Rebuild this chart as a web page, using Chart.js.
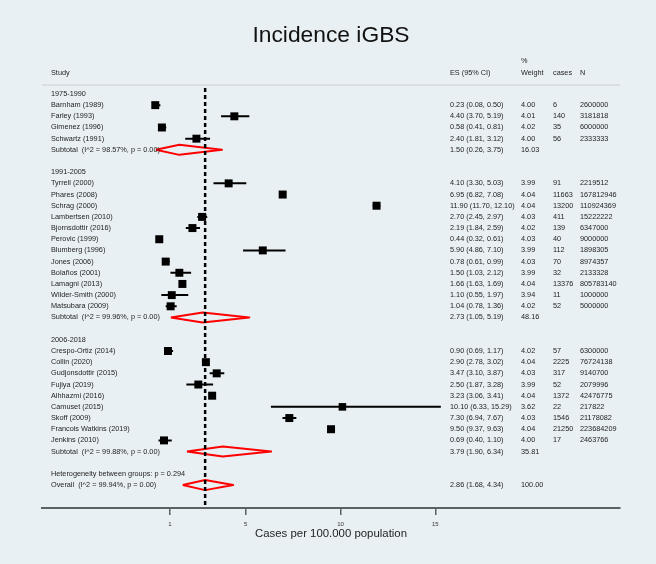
<!DOCTYPE html>
<html>
<head>
<meta charset="utf-8">
<script src="https://cdn.jsdelivr.net/npm/chart.js@4.4.1/dist/chart.umd.min.js"></script>
<style>
  body { margin: 0; background: #e9f0f3; }
  canvas { display: block; }
</style>
</head>
<body>
<canvas id="forest" width="656" height="564"></canvas>
<script>
// Study data (incidence per 100.000)
const groups = ["1975-1990", "1991-2005", "2006-2018"];
const studyNames = [
  "Barnham (1989)", "Farley (1993)", "Gimenez (1996)", "Schwartz (1991)",
  "Tyrrell (2000)", "Phares (2008)", "Schrag (2000)", "Lambertsen (2010)", "Bjornsdottir (2016)",
  "Perovic (1999)", "Blumberg (1996)", "Jones (2006)", "Bolaños (2001)", "Lamagni (2013)",
  "Wilder-Smith (2000)", "Matsubara (2009)",
  "Crespo-Ortiz (2014)", "Collin (2020)", "Gudjonsdottir (2015)", "Fujiya (2019)", "Alhhazmi (2016)",
  "Camuset (2015)", "Skoff (2009)", "Francois Watkins (2019)", "Jenkins (2010)"
];
const studyGroup = [0,0,0,0, 1,1,1,1,1,1,1,1,1,1,1,1, 2,2,2,2,2,2,2,2,2];
const es     = [0.23, 4.40, 0.58, 2.40, 4.10, 6.95, 11.90, 2.70, 2.19, 0.44, 5.90, 0.78, 1.50, 1.66, 1.10, 1.04, 0.90, 2.90, 3.47, 2.50, 3.23, 10.10, 7.30, 9.50, 0.69];
const ciLow  = [0.08, 3.70, 0.41, 1.81, 3.30, 6.82, 11.70, 2.45, 1.84, 0.32, 4.86, 0.61, 1.03, 1.63, 0.55, 0.78, 0.69, 2.78, 3.10, 1.87, 3.06, 6.33, 6.94, 9.37, 0.40];
const ciHigh = [0.50, 5.19, 0.81, 3.12, 5.03, 7.08, 12.10, 2.97, 2.59, 0.61, 7.10, 0.99, 2.12, 1.69, 1.97, 1.36, 1.17, 3.02, 3.87, 3.28, 3.41, 15.29, 7.67, 9.63, 1.10];
const weights = [4.00, 4.01, 4.02, 4.00, 3.99, 4.04, 4.04, 4.03, 4.02, 4.03, 3.99, 4.03, 3.99, 4.04, 3.94, 4.02, 4.02, 4.04, 4.03, 3.99, 4.04, 3.62, 4.03, 4.04, 4.00];
const cases = [6, 140, 35, 56, 91, 11663, 13200, 411, 139, 40, 112, 70, 32, 13376, 11, 52, 57, 2225, 317, 52, 1372, 22, 1546, 21250, 17];
const popN = [2600000, 3181818, 6000000, 2333333, 2219512, 167812946, 110924369, 15222222, 6347000, 9000000, 1898305, 8974357, 2133328, 805783140, 1000000, 5000000, 6300000, 76724138, 9140700, 2079996, 42476775, 217822, 21178082, 223684209, 2463766];

// Subgroup and overall pooled estimates
const subEs = [1.50, 2.73, 3.79];
const subLow = [0.26, 1.05, 1.90];
const subHigh = [3.75, 5.19, 6.34];
const subWeight = [16.03, 48.16, 35.81];
const subI2 = ["98.57", "99.96", "99.88"];
const overallEs = 2.86, overallLow = 1.68, overallHigh = 4.34, overallI2 = "99.94";
const hetP = "0.294";
const xTicks = [1, 5, 10, 15];

const FONT = "'Liberation Sans', Arial, sans-serif";
const TEXT = "#1e1e1e";

// lay out rows
const rows = [];
let r = 0;
groups.forEach((g, gi) => {
  rows.push({ kind: "group", gi, row: r++ });
  studyNames.forEach((n, i) => { if (studyGroup[i] === gi) rows.push({ kind: "study", i, row: r++ }); });
  rows.push({ kind: "sub", gi, row: r++ });
  r++;
});
rows.push({ kind: "het", row: r++ });
rows.push({ kind: "overall", row: r++ });

const yMin = -0.716, yMax = 37.06;

const ciData = [], boxData = [], diamondData = [];
function diamond(lo, mid, hi, y) {
  const h = 0.45;
  diamondData.push({ x: lo, y }, { x: mid, y: y - h }, { x: hi, y }, { x: mid, y: y + h }, { x: lo, y }, { x: null, y: null });
}
rows.forEach(o => {
  if (o.kind === "study") {
    ciData.push({ x: ciLow[o.i], y: o.row }, { x: ciHigh[o.i], y: o.row }, { x: null, y: null });
    boxData.push({ x: es[o.i], y: o.row, w: weights[o.i] });
  } else if (o.kind === "sub") {
    diamond(subLow[o.gi], subEs[o.gi], subHigh[o.gi], o.row);
  } else if (o.kind === "overall") {
    diamond(overallLow, overallEs, overallHigh, o.row);
  }
});
const refLine = [{ x: overallEs, y: -0.54 }, { x: overallEs, y: yMax }];

const fmt = v => v.toFixed(2);
const esText = (e, l, h) => fmt(e) + " (" + fmt(l) + ", " + fmt(h) + ")";

const tablePlugin = {
  id: "table",
  beforeDatasetsDraw(chart) {
    const { ctx, chartArea } = chart;
    ctx.save();
    ctx.strokeStyle = "#d2d9dc";
    ctx.lineWidth = 1.5;
    ctx.beginPath();
    ctx.moveTo(chartArea.left, 85);
    ctx.lineTo(chartArea.right, 85);
    ctx.stroke();
    ctx.restore();
  },
  afterDraw(chart) {
    const { ctx } = chart;
    const y = chart.scales.y;
    ctx.save();
    ctx.font = "7.3px " + FONT;
    ctx.fillStyle = TEXT;
    ctx.textBaseline = "middle";
    ctx.textAlign = "left";
    const put = (t, x, row) => ctx.fillText(t, x, y.getPixelForValue(row));
    put("Study", 51, -1.88);
    put("ES (95% CI)", 450, -1.88);
    put("%", 521, -2.95);
    put("Weight", 521, -1.88);
    put("cases", 553, -1.88);
    put("N", 580, -1.88);
    rows.forEach(o => {
      if (o.kind === "group") put(groups[o.gi], 51, o.row);
      else if (o.kind === "study") {
        const i = o.i;
        put(studyNames[i], 51, o.row);
        put(esText(es[i], ciLow[i], ciHigh[i]), 450, o.row);
        put(fmt(weights[i]), 521, o.row);
        put(String(cases[i]), 553, o.row);
        put(String(popN[i]), 580, o.row);
      } else if (o.kind === "sub") {
        put("Subtotal  (I^2 = " + subI2[o.gi] + "%, p = 0.00)", 51, o.row);
        put(esText(subEs[o.gi], subLow[o.gi], subHigh[o.gi]), 450, o.row);
        put(fmt(subWeight[o.gi]), 521, o.row);
      } else if (o.kind === "het") {
        put("Heterogeneity between groups: p = " + hetP, 51, o.row);
      } else if (o.kind === "overall") {
        put("Overall  (I^2 = " + overallI2 + "%, p = 0.00)", 51, o.row);
        put(esText(overallEs, overallLow, overallHigh), 450, o.row);
        put("100.00", 521, o.row);
      }
    });
    ctx.restore();
  }
};

new Chart(document.getElementById("forest"), {
  type: "scatter",
  data: {
    datasets: [
      { data: refLine, showLine: true, pointRadius: 0, borderColor: "#000", borderWidth: 2.5, borderDash: [4, 3] },
      { data: ciData, showLine: true, spanGaps: false, pointRadius: 0, borderColor: "#000", borderWidth: 2 },
      { data: boxData, pointStyle: "rect", backgroundColor: "#000", borderWidth: 0,
        pointRadius: c => 8 * Math.sqrt((c.raw ? c.raw.w : 4) / 4.04) / (2 * Math.SQRT1_2) },
      { data: diamondData, showLine: true, spanGaps: false, pointRadius: 0, borderColor: "#ff0000",
        borderWidth: 2, borderJoinStyle: "round" }
    ]
  },
  options: {
    responsive: false,
    animation: false,
    events: [],
    layout: { padding: { left: 42, right: 36, top: 0, bottom: 23 } },
    plugins: {
      legend: { display: false },
      tooltip: { enabled: false },
      title: {
        display: true, text: "Incidence iGBS", color: "#111",
        font: { family: FONT, size: 22.8, weight: "normal" },
        padding: { top: 22, bottom: 36.6 }
      }
    },
    scales: {
      x: {
        type: "linear", min: -5.744, max: 24.74,
        afterBuildTicks: s => { s.ticks = xTicks.map(v => ({ value: v })); },
        grid: { drawOnChartArea: false, drawTicks: true, tickLength: 7, color: "#5a6263", lineWidth: 1.5 },
        border: { display: true, color: "#5a6263", width: 2 },
        ticks: { font: { family: FONT, size: 6 }, color: "#333", padding: 5.5, maxRotation: 0, autoSkip: false },
        title: { display: true, text: "Cases per 100.000 population", color: TEXT,
          font: { family: FONT, size: 11.4 }, padding: { top: -6, bottom: 0 } }
      },
      y: { type: "linear", reverse: true, min: yMin, max: yMax, display: false }
    }
  },
  plugins: [tablePlugin]
});
</script>
</body>
</html>
